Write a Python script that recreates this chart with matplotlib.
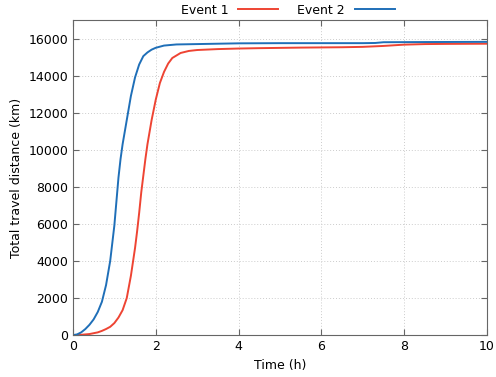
import matplotlib
matplotlib.use("Agg")
import matplotlib.pyplot as plt

# Event 1 (red) - time in hours, cumulative distance in km
t_event1 = [0, 0.2, 0.4, 0.6, 0.7, 0.8, 0.9, 1.0, 1.1, 1.2, 1.3, 1.4, 1.5, 1.55, 1.6,
            1.65, 1.7, 1.75, 1.8, 1.9, 2.0, 2.1, 2.2, 2.3, 2.4, 2.6, 2.8, 3.0, 3.5, 4.0,
            4.5, 5.5, 6.5, 7.0, 7.5, 8.0, 8.5, 9.0, 10.0]
d_event1 = [0, 20, 60, 150, 230, 330, 450, 650, 950, 1350, 2000, 3200, 4700, 5600, 6600,
            7700, 8600, 9500, 10300, 11600, 12700, 13600, 14200, 14650, 14950, 15220, 15330, 15380, 15430, 15460,
            15480, 15510, 15530, 15550, 15600, 15670, 15700, 15710, 15720]

# Event 2 (blue)
t_event2 = [0, 0.1, 0.2, 0.3, 0.4, 0.5, 0.6, 0.7, 0.8, 0.9, 1.0, 1.05, 1.1, 1.15, 1.2, 1.3,
            1.4, 1.5, 1.6, 1.7, 1.8, 1.9, 2.0, 2.2, 2.5, 3.0, 4.0, 5.0, 6.0, 7.0,
            7.3, 7.5, 8.5, 10.0]
d_event2 = [0, 40, 150, 330, 560, 850, 1250, 1800, 2700, 4000, 5900, 7200, 8500, 9500, 10300, 11600,
            12900, 13900, 14600, 15050, 15250, 15400, 15500, 15620, 15680, 15700, 15740, 15750, 15750, 15750,
            15760, 15800, 15810, 15820]

x_ticks = [0, 2, 4, 6, 8, 10]
y_ticks = list(range(0, 16001, 2000))

fig = plt.figure(figsize=(4.96, 3.77), dpi=100)
ax = fig.add_axes([0.147, 0.111, 0.835, 0.836])

ax.plot(t_event1, d_event1, color="#ee4433", lw=1.4, label="Event 1")
ax.plot(t_event2, d_event2, color="#1f6fb8", lw=1.4, label="Event 2")

ax.set_xlim(0, 10)
ax.set_ylim(0, 17000)
ax.set_xticks(x_ticks)
ax.set_yticks(y_ticks)
ax.tick_params(direction="in", top=True, right=True, labelsize=9, length=4, color="#666666")
ax.grid(True, linestyle=(0, (1, 2)), color="#cccccc", lw=0.7)
for s in ax.spines.values():
    s.set_color("#666666")

ax.set_xlabel("Time (h)", fontsize=9)
ax.set_ylabel("Total travel distance (km)", fontsize=9)

fig.legend(loc="upper center", bbox_to_anchor=(0.58, 1.02), ncol=2, frameon=False,
           markerfirst=False, fontsize=9, handlelength=3.2, columnspacing=1.5)

fig.savefig("out.png", dpi=100)
